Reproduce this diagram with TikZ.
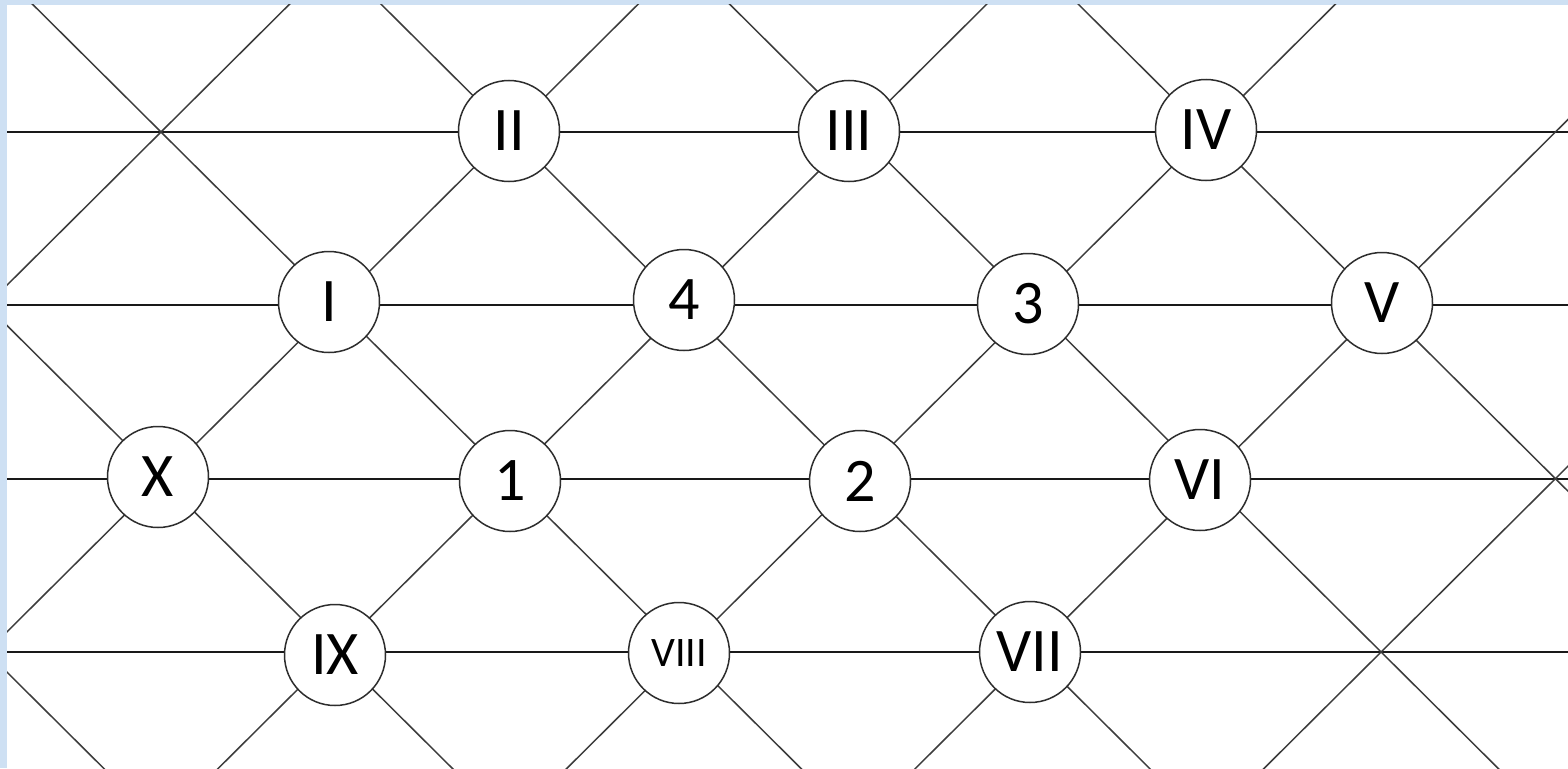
\documentclass[tikz,border=0pt]{standalone}
\usepackage{fontspec}
\setmainfont{Carlito}
\definecolor{slideblue}{RGB}{206,224,243}
\definecolor{hline}{RGB}{25,25,25}
\definecolor{dline}{RGB}{60,60,60}
\definecolor{ringc}{RGB}{45,45,45}
\begin{document}
\begin{tikzpicture}[x=1pt,y=-1pt,
  hor/.style={draw=hline,line width=2pt},
  diag/.style={draw=dline,line width=1.5pt},
  ring/.style={circle,draw=ringc,line width=1.5pt,fill=white,minimum size=101pt,inner sep=0pt,
    font=\fontsize{62}{70}\selectfont,text=black},
  smallring/.style={ring,font=\fontsize{42}{48}\selectfont}]
\useasboundingbox (0,0) rectangle (1568,768);
\fill[slideblue] (0,0) rectangle (1568,768);
\fill[white] (7,5) rectangle (1568,768);
\def\dx{174.3}
\def\dy{173.33}
\begin{scope}
\clip (7,5) rectangle (1568,768);
% horizontal lines
\foreach \j in {0,1,2,3}{
  \pgfmathsetmacro\yy{132+\j*\dy}
  \coordinate (hl\j) at (7,\yy);
  \coordinate (hr\j) at (1568,\yy);
  \draw[hor] (hl\j) -- (hr\j);
}
% diagonals going down-right
\foreach \n in {-2,...,3}{
  \pgfmathsetmacro\xa{161+(2*\n-2)*\dx}
  \pgfmathsetmacro\xb{161+(2*\n+6)*\dx}
  \pgfmathsetmacro\ya{132-2*\dy}
  \pgfmathsetmacro\yb{132+6*\dy}
  \coordinate (ra\n) at (\xa,\ya);
  \coordinate (rb\n) at (\xb,\yb);
  \draw[diag] (ra\n) -- (rb\n);
}
% diagonals going down-left
\foreach \n in {0,...,5}{
  \pgfmathsetmacro\xa{161+(2*\n+2)*\dx}
  \pgfmathsetmacro\xb{161+(2*\n-6)*\dx}
  \pgfmathsetmacro\ya{132-2*\dy}
  \pgfmathsetmacro\yb{132+6*\dy}
  \coordinate (la\n) at (\xa,\ya);
  \coordinate (lb\n) at (\xb,\yb);
  \draw[diag] (la\n) -- (lb\n);
}
\end{scope}
% nodes
\node[ring] (nII)   at (509,131) {II};
\node[ring] (nIII)  at (849,131) {III};
\node[ring] (nIV)   at (1206,130) {IV};
\node[ring] (nI)    at (329,302) {I};
\node[ring] (n4)    at (684,300) {4};
\node[ring] (n3)    at (1028,304) {3};
\node[ring] (nV)    at (1382,303) {V};
\node[ring] (nX)    at (158,477) {X};
\node[ring] (n1)    at (510,481) {1};
\node[ring] (n2)    at (860,481) {2};
\node[ring] (nVI)   at (1200,480) {VI};
\node[ring] (nIX)   at (335,655) {IX};
\node[smallring] (nVIII) at (679,653) {VIII};
\node[ring] (nVII)  at (1030,652) {VII};
\end{tikzpicture}
\end{document}
